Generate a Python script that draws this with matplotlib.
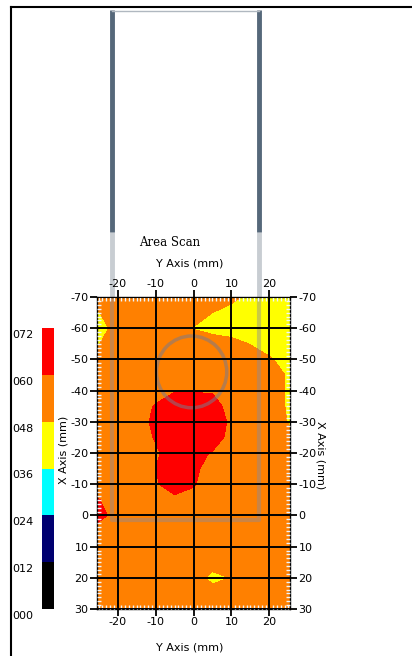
import numpy as np
import matplotlib.pyplot as plt
from matplotlib.colors import ListedColormap, BoundaryNorm
from matplotlib.patches import Ellipse
from matplotlib.lines import Line2D
from matplotlib.ticker import MultipleLocator, FixedLocator
from matplotlib.transforms import blended_transform_factory, ScaledTranslation

plt.rcParams['axes.unicode_minus'] = False

# scan grid (mm): horizontal = Y axis, vertical = X axis
y_pos = [-25.4, -20, -15, -10, -5, 0, 5, 10, 15, 20, 25.4]
x_pos = [-70, -65, -60, -55, -50, -45, -40, -35, -30, -25, -20,
         -15, -10, -5, 0, 5, 10, 15, 20, 25, 30]

# amplitude, one row per x_pos
amp = [
    [54, 54, 54, 54, 54, 54, 54, 51, 45, 42, 42],
    [47, 54, 54, 54, 54, 53, 48, 44, 42, 42, 42],
    [40, 54, 54, 54, 54, 47.5, 44, 42, 42, 42, 42],
    [47, 54, 54, 54, 54, 54, 54, 52, 47.5, 44, 42],
    [54, 54, 54, 54, 54, 54, 54, 54, 54, 49, 44],
    [54, 54, 54, 54, 54, 54, 54, 54, 54, 54, 46],
    [54, 54, 54, 54, 59, 59, 59, 54, 54, 54, 46],
    [54, 54, 54, 61, 68, 68, 64, 56, 54, 54, 46],
    [54, 54, 52, 64, 68, 68, 66, 58, 54, 54, 47],
    [54, 54, 54, 61, 68, 68, 66, 56, 54, 54, 50],
    [54, 54, 54, 58, 66, 64, 59, 54, 54, 54, 54],
    [54, 54, 54, 60, 66, 63, 54, 54, 54, 54, 54],
    [54, 54, 54, 59, 64, 61, 54, 54, 54, 54, 54],
    [61, 54, 54, 54, 58, 56, 54, 54, 54, 54, 54],
    [66, 54, 54, 54, 54, 54, 54, 54, 54, 54, 54],
    [54, 54, 54, 54, 54, 54, 54, 54, 54, 54, 54],
    [54, 54, 54, 54, 54, 54, 54, 54, 54, 54, 54],
    [54, 54, 54, 54, 54, 54, 54, 54, 54, 54, 54],
    [54, 54, 54, 54, 54, 54, 44, 48.5, 54, 54, 54],
    [54, 54, 54, 54, 54, 54, 54, 54, 54, 54, 54],
    [54, 54, 54, 54, 54, 54, 54, 54, 54, 54, 54],
]

levels = [0, 12, 24, 36, 48, 60, 72]
level_colors = ['#000000', '#000070', '#00ffff', '#ffff00', '#ff8000', '#ff0000']
x_ticks = [-70, -60, -50, -40, -30, -20, -10, 0, 10, 20, 30]
y_ticks = [-20, -10, 0, 10, 20]

# probe outline and target circle (mm)
probe_left, probe_right, probe_tip = -21.4, 17.2, 1.5
probe_top, probe_shade = -162, -90.8
ring_center, ring_w, ring_h = (-0.5, -46), 18.5, 23

W, H = 412, 656
fig = plt.figure(figsize=(W / 100, H / 100), dpi=100)
fig.patch.set_facecolor('white')

ax = fig.add_axes([97 / W, 47 / H, 193 / W, 312 / H])
cmap = ListedColormap(level_colors)
norm = BoundaryNorm(levels, cmap.N)
cf = ax.contourf(y_pos, x_pos, np.array(amp), levels=levels, cmap=cmap, norm=norm)

ax.set_xlim(-25.4, 25.4)
ax.set_ylim(30, -70)
ax.xaxis.set_major_locator(FixedLocator(y_ticks))
ax.yaxis.set_major_locator(FixedLocator(x_ticks))
ax.xaxis.set_minor_locator(MultipleLocator(1))
ax.yaxis.set_minor_locator(MultipleLocator(1.25))
ax.tick_params(which='major', direction='out', length=5, width=1.3, color='black',
               top=True, right=True, labeltop=True, labelright=True,
               labelsize=8, pad=1)
ax.tick_params(which='minor', direction='in', length=3, width=1, color='#eef6ff',
               top=True, right=True)
ax.grid(True, which='major', color='black', lw=1.4)
ax.set_axisbelow(False)
for s in ax.spines.values():
    s.set_color('black')
    s.set_linewidth(1)

# probe overlay
inner = dict(color='#8a8a9a', alpha=0.45, lw=3, solid_capstyle='butt')
ax.plot([probe_left, probe_left, probe_right, probe_right],
        [-70, probe_tip, probe_tip, -70], **inner)
for px in (probe_left, probe_right):
    ax.plot([px, px], [probe_shade, -70], color='#c8cdd2', lw=3.5,
            clip_on=False, solid_capstyle='butt')
    ax.plot([px, px], [probe_top, probe_shade], color='#56687a', lw=3.5,
            clip_on=False, solid_capstyle='butt')
ax.plot([probe_left, probe_right], [probe_top + 0.4, probe_top + 0.4],
        color='#b0b8c0', lw=1, clip_on=False)
ax.add_patch(Ellipse(ring_center, ring_w, ring_h, fill=False,
                     ec='#7a7a8a', alpha=0.55, lw=2.5))

# colour bar
cax = fig.add_axes([42 / W, 47 / H, 12 / W, 281 / H])
cb = fig.colorbar(cf, cax=cax)
cb.outline.set_visible(False)
cax.minorticks_off()
cax.tick_params(which='both', length=0, labelright=False, labelleft=False)
tr = blended_transform_factory(cax.transAxes, cax.transData) + \
    ScaledTranslation(0, -0.07, fig.dpi_scale_trans)
for lev in levels:
    cax.text(-2.5, lev, f'{lev:03d}', transform=tr, ha='left',
             va='center', fontsize=8)

# titles
fig.text(170 / W, 1 - 242 / H, 'Area Scan', ha='center', va='center',
         fontsize=8.5, family='serif')
fig.text(190 / W, 1 - 264 / H, 'Y Axis (mm)', ha='center', va='center', fontsize=8)
fig.text(190 / W, 1 - 648 / H, 'Y Axis (mm)', ha='center', va='center', fontsize=8)
fig.text(64 / W, 1 - 450 / H, 'X Axis (mm)', ha='center', va='center',
         rotation=90, fontsize=8)
fig.text(321 / W, 1 - 455 / H, 'X Axis (mm)', ha='center', va='center',
         rotation=270, fontsize=8)

# outer frame
fig.add_artist(Line2D([11 / W, 11 / W], [0, 1 - 7 / H], color='black', lw=1.5))
fig.add_artist(Line2D([11 / W, 1], [1 - 7 / H, 1 - 7 / H], color='black', lw=1.5))

fig.savefig('out.png', dpi=100)
